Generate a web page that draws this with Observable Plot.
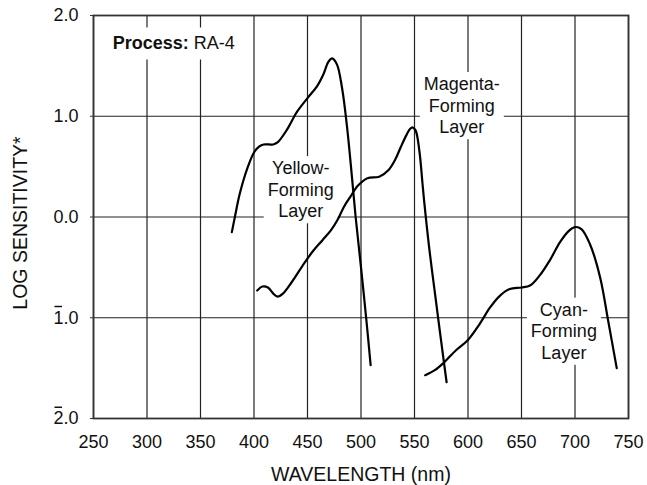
<!DOCTYPE html>
<html>
<head>
<meta charset="utf-8">
<script src="https://cdn.jsdelivr.net/npm/d3@7"></script>
<script src="https://cdn.jsdelivr.net/npm/@observablehq/plot@0.6"></script>
<style>
  html, body { margin: 0; padding: 0; background: #fff; }
  #chart svg { display: block; }
</style>
</head>
<body>
<div id="chart"></div>
<script>
// ---- Axis ticks and labels ----
const xTicks = [250, 300, 350, 400, 450, 500, 550, 600, 650, 700, 750];
const xTickLabels = ["250", "300", "350", "400", "450", "500", "550", "600", "650", "700", "750"];
const yTicks = [2, 1, 0, -1, -2];
const yTickLabels = ["2.0", "1.0", "0.0", "1\u0305.0", "2\u0305.0"];
const xTitle = "WAVELENGTH (nm)";
const yTitle = "LOG SENSITIVITY*";

// ---- Series: wavelength (nm) and log sensitivity ----
const yellowNm  = [379.3, 382.5, 386, 390, 394, 400, 405, 409, 414, 418, 422, 431, 440, 450, 459, 465, 469.5, 473, 477.5, 482.3, 487, 491.6, 495, 500, 505, 509];
const yellowLog = [-0.15, 0.02, 0.2, 0.36, 0.49, 0.64, 0.70, 0.72, 0.72, 0.72, 0.74, 0.87, 1.04, 1.18, 1.30, 1.42, 1.54, 1.575, 1.515, 1.28, 0.89, 0.39, 0.0, -0.5, -1.02, -1.47];

const magentaNm  = [403, 408, 413, 418, 422, 427, 435, 445, 455, 464, 472, 478, 484, 490, 497, 506, 517, 526, 532, 537, 543, 546, 548, 551, 554.5, 557.5, 559, 564, 570, 575, 580];
const magentaLog = [-0.73, -0.69, -0.70, -0.76, -0.79, -0.76, -0.65, -0.49, -0.34, -0.23, -0.13, -0.03, 0.10, 0.20, 0.31, 0.385, 0.40, 0.47, 0.57, 0.69, 0.825, 0.875, 0.89, 0.86, 0.66, 0.33, 0.16, -0.33, -0.83, -1.24, -1.64];

const cyanNm  = [560, 569, 577, 589, 600, 611, 620.5, 630, 639, 650, 658, 667, 677, 686, 694, 700, 706, 714, 723.5, 731, 739];
const cyanLog = [-1.57, -1.52, -1.45, -1.32, -1.22, -1.06, -0.90, -0.78, -0.715, -0.70, -0.68, -0.58, -0.42, -0.25, -0.14, -0.10, -0.12, -0.27, -0.60, -1.03, -1.50];

// ---- Annotations ----
const layerLabels   = ["Yellow-\nForming\nLayer", "Magenta-\nForming\nLayer", "Cyan-\nForming\nLayer"];
const layerLabelNm  = [443.7, 594.2, 689.6];
const layerLabelLog = [0.28, 1.115, -1.125];
const processKey = "Process:";
const processValue = "RA-4";
const processNm = [268];
const processLog = [1.72];

// ---- Build tables ----
const series = [
  {name: "Yellow", nm: yellowNm, log: yellowLog},
  {name: "Magenta", nm: magentaNm, log: magentaLog},
  {name: "Cyan", nm: cyanNm, log: cyanLog}
];
const curveData = series.flatMap(s => s.nm.map((x, i) => ({series: s.name, nm: x, log: s.log[i]})));
const labelData = layerLabels.map((t, i) => ({text: t, nm: layerLabelNm[i], log: layerLabelLog[i]}));
const processData = processNm.map((x, i) => ({text: processKey, nm: x, log: processLog[i]}));

const FONT = "'Liberation Sans', Arial, Helvetica, sans-serif";

const svg = Plot.plot({
  width: 647,
  height: 485,
  marginLeft: 93,
  marginRight: 19,
  marginTop: 15,
  marginBottom: 67,
  style: {fontFamily: FONT, fontSize: "18px", color: "#111", background: "#fff"},
  x: {domain: [250, 750]},
  y: {domain: [-2, 2]},
  marks: [
    Plot.ruleX(xTicks, {stroke: "#222", strokeWidth: 1.2}),
    Plot.ruleY(yTicks, {stroke: "#222", strokeWidth: 1.2}),
    Plot.frame({stroke: "#333", strokeWidth: 1.8}),
    Plot.axisX({ticks: xTicks, tickFormat: (d) => xTickLabels[xTicks.indexOf(d)], tickSize: 0, tickPadding: 17, label: null, fontSize: 18}),
    Plot.axisY({ticks: yTicks, tickFormat: (d) => yTickLabels[yTicks.indexOf(d)], tickSize: 3, tickPadding: 12, label: null, fontSize: 18, stroke: "#333", className: "y-ticklabels"}),
    Plot.text([xTitle], {frameAnchor: "bottom", text: d => d, dy: 62, fontSize: 19.5, fill: "#111"}),
    Plot.text([yTitle], {frameAnchor: "left", textAnchor: "middle", lineAnchor: "middle", text: d => d, rotate: -90, dx: -73, dy: 6, fontSize: 19.5, fill: "#111"}),
    Plot.text(labelData, {x: "nm", y: "log", text: "text", fontSize: 18, lineHeight: 1.2, fill: "#111", className: "boxed-label"}),
    Plot.text(processData, {x: "nm", y: "log", text: "text", textAnchor: "start", fontSize: 18, fill: "#111", className: "process-label"}),
    Plot.line(curveData, {x: "nm", y: "log", z: "series", curve: "catmull-rom", stroke: "#000", strokeWidth: 2.2})
  ]
});

document.getElementById("chart").append(svg);

const NS = "http://www.w3.org/2000/svg";

// Negative-characteristic tick labels: draw the bar above the digit
svg.querySelectorAll("text").forEach(t => {
  const s = t.textContent;
  const idx = s.indexOf("\u0305");
  if (idx < 1 || t.querySelector("tspan")) return;
  t.textContent = s.replace("\u0305", "");
  const ext = t.getExtentOfChar(idx - 1);
  const ln = document.createElementNS(NS, "line");
  ln.setAttribute("x1", ext.x + 1);
  ln.setAttribute("x2", ext.x + ext.width - 1.5);
  ln.setAttribute("y1", ext.y - 1);
  ln.setAttribute("y2", ext.y - 1);
  ln.setAttribute("stroke", "#111");
  ln.setAttribute("stroke-width", 1.5);
  const tr = t.getAttribute("transform");
  if (tr) ln.setAttribute("transform", tr);
  t.parentNode.appendChild(ln);
});

// Bold key + regular value in the process annotation
svg.querySelectorAll("g.process-label text").forEach(t => {
  const key = t.textContent;
  t.textContent = "";
  const b = document.createElementNS(NS, "tspan");
  b.setAttribute("font-weight", "bold");
  b.textContent = key;
  t.appendChild(b);
  t.appendChild(document.createTextNode(" " + processValue));
});
// White boxes behind annotations so they break the grid
function addBoxes(selector, padX, padY) {
  svg.querySelectorAll(selector).forEach(t => {
    const bb = t.getBBox();
    const r = document.createElementNS(NS, "rect");
    r.setAttribute("x", bb.x - padX);
    r.setAttribute("y", bb.y - padY);
    r.setAttribute("width", bb.width + 2 * padX);
    r.setAttribute("height", bb.height + 2 * padY);
    r.setAttribute("fill", "#fff");
    const tr = t.getAttribute("transform");
    if (tr) r.setAttribute("transform", tr);
    t.parentNode.insertBefore(r, t);
  });
}
addBoxes("g.boxed-label text", 4, 2);
addBoxes("g.process-label text", 8, 6);
</script>
</body>
</html>
